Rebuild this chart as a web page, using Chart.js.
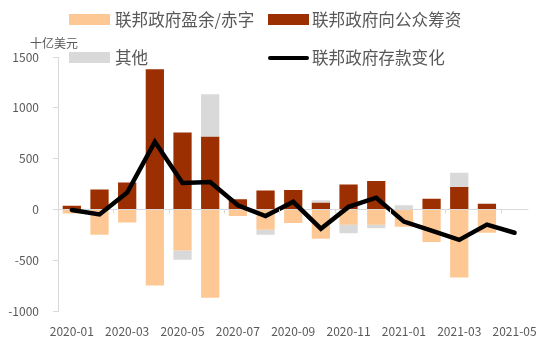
<!DOCTYPE html>
<html>
<head>
<meta charset="utf-8">
<script src="https://cdn.jsdelivr.net/npm/chart.js@4/dist/chart.umd.min.js"></script>
<style>
  html, body { margin: 0; padding: 0; background: #fff; }
  #wrap { position: relative; width: 550px; height: 351px; }
  canvas { position: absolute; left: 0; top: 0; }
  .lg { position: absolute; font-family: "Noto Sans CJK SC", sans-serif; font-size: 16.6px; color: #595959; white-space: nowrap; line-height: 20px; }
  .sw { position: absolute; width: 41px; height: 11px; }
  .ln { position: absolute; width: 41px; height: 4px; background: #000; border-radius: 2px; }
  .yt { position: absolute; left: 30px; top: 35px; font-family: "Noto Sans CJK SC", sans-serif; font-size: 12px; color: #595959; line-height: 16px; }
</style>
</head>
<body>
<div id="wrap">
  <canvas id="c" width="550" height="351"></canvas>
  <div class="yt">十亿美元</div>
  <div class="sw" style="left:69px;top:14px;background:#FEC895"></div>
  <div class="lg" style="left:115px;top:9px">联邦政府盈余/赤字</div>
  <div class="sw" style="left:268px;top:14px;background:#9C2F02"></div>
  <div class="lg" style="left:312px;top:9px">联邦政府向公众筹资</div>
  <div class="sw" style="left:69px;top:52px;background:#D9D9D9"></div>
  <div class="lg" style="left:115px;top:47px">其他</div>
  <div class="ln" style="left:268px;top:56px"></div>
  <div class="lg" style="left:312px;top:47px">联邦政府存款变化</div>
</div>
<script>
const months = ["2020-01","2020-02","2020-03","2020-04","2020-05","2020-06","2020-07","2020-08","2020-09","2020-10","2020-11","2020-12","2021-01","2021-02","2021-03","2021-04","2021-05"];
const surplusDeficit = [-40,-250,-130,-750,-405,-870,-65,-200,-135,-290,-150,-150,-170,-320,-670,-230,null];
const publicFinancing = [35,195,265,1380,757,714,100,185,190,65,245,280,0,105,220,55,null];
const otherItems = [0,0,0,0,-90,420,0,-50,0,25,-85,-35,40,0,140,0,null];
const depositChange = [-5,-50,165,665,260,270,40,-65,75,-190,25,115,-120,-210,-300,-150,-230];
const yTicks = [-1000,-500,0,500,1000,1500];

const FONT = '"Noto Sans CJK SC", sans-serif';
const TXT = '#595959';
const AXIS = '#D9D9D9';

const zeroTicks = {
  id: 'zeroTicks',
  afterDatasetsDraw(chart) {
    const x = chart.scales.x, y = chart.scales.y;
    const ctx = chart.ctx;
    const y0 = y.getPixelForValue(0);
    const half = (x.getPixelForValue(1) - x.getPixelForValue(0)) / 2;
    ctx.save();
    ctx.strokeStyle = AXIS;
    ctx.lineWidth = 1;
    for (let i = 2; i < months.length; i += 2) {
      const px = Math.round(x.getPixelForValue(i) - half) + 0.5;
      ctx.beginPath();
      ctx.moveTo(px, y0);
      ctx.lineTo(px, y0 + 4);
      ctx.stroke();
    }
    ctx.restore();
  }
};

new Chart(document.getElementById('c'), {
  data: {
    labels: months,
    datasets: [
      { type: 'bar', label: '联邦政府盈余/赤字', data: surplusDeficit, backgroundColor: '#FEC895', order: 1, stack: 's' },
      { type: 'bar', label: '联邦政府向公众筹资', data: publicFinancing, backgroundColor: '#9C2F02', order: 1, stack: 's' },
      { type: 'bar', label: '其他', data: otherItems, backgroundColor: '#D9D9D9', order: 1, stack: 's' },
      { type: 'line', label: '联邦政府存款变化', data: depositChange, borderColor: '#000', borderWidth: 4.5, pointRadius: 0, tension: 0, order: 0, borderJoinStyle: 'miter', borderCapStyle: 'round' }
    ]
  },
  options: {
    responsive: false,
    animation: false,
    layout: { padding: { top: 57, right: 12, bottom: 0, left: 0 } },
    plugins: { legend: { display: false }, tooltip: { enabled: false } },
    datasets: { bar: { categoryPercentage: 1, barPercentage: 0.66 } },
    scales: {
      x: {
        stacked: true,
        grid: { display: false, drawTicks: false },
        border: { display: false },
        ticks: {
          autoSkip: false, maxRotation: 0, minRotation: 0, padding: 13,
          color: TXT, font: { family: FONT, size: 12 },
          callback: function(v, i) { return i % 2 === 0 ? months[i] : ''; }
        },
        afterFit(s) { s.height = 40; }
      },
      y: {
        stacked: true,
        min: -1000, max: 1500,
        afterBuildTicks(s) { s.ticks = yTicks.map(v => ({ value: v })); },
        grid: {
          drawOnChartArea: true,
          color: ctx => (ctx.tick && ctx.tick.value === 0) ? AXIS : 'rgba(0,0,0,0)',
          tickColor: AXIS, tickLength: 5
        },
        border: { display: true, color: AXIS },
        ticks: { padding: 14, color: TXT, font: { family: FONT, size: 12 }, callback: v => String(v) },
        afterFit(s) { s.width = 58; }
      }
    }
  },
  plugins: [zeroTicks]
});
</script>
</body>
</html>
